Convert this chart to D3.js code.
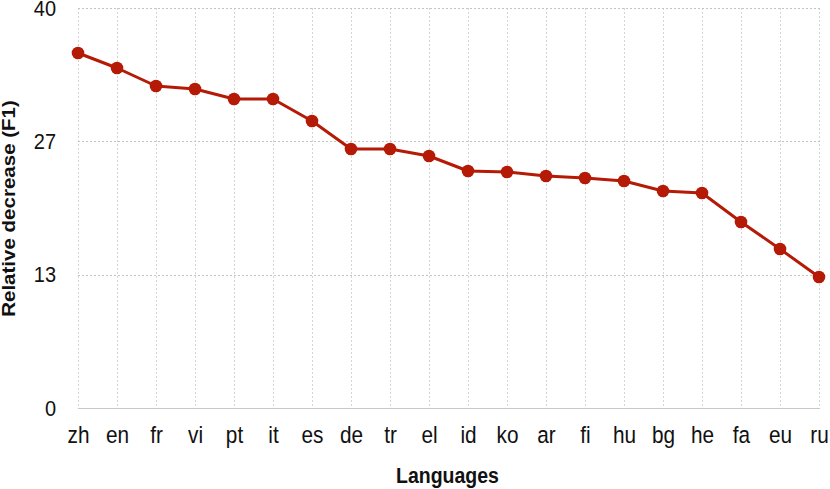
<!DOCTYPE html>
<html><head><meta charset="utf-8">
<script src="https://cdn.jsdelivr.net/npm/d3@7"></script>
<style>
html,body{margin:0;padding:0;background:#fff;}
svg{display:block;}
text{font-family:"Liberation Sans",Arial,Helvetica,sans-serif;}
</style></head>
<body>
<svg id="chart" width="830" height="489"></svg>
<script>
const languages = ["zh","en","fr","vi","pt","it","es","de","tr","el","id","ko","ar","fi","hu","bg","he","fa","eu","ru"];
const relativeDecrease = [35.5,34.0,32.2,31.9,30.9,30.9,28.7,25.9,25.9,25.2,23.7,23.6,23.2,23.0,22.7,21.7,21.5,18.6,15.9,13.1];
const yTickValues = [0, 40/3, 80/3, 40];
const yTickLabels = ["0","13","27","40"];

(function () {
const svg = d3.select("#chart");
const pLeft = 78, pRight = 819, pTop = 8, pBottom = 408;
const x = d3.scalePoint().domain(languages).range([pLeft, pRight]);
const y = d3.scaleLinear().domain([0, 40]).range([pBottom, pTop]);
const sy = 1.12;

// vertical grid
svg.append("g").selectAll("line").data(languages).join("line")
  .attr("x1", d => Math.round(x(d)) + 0.5).attr("x2", d => Math.round(x(d)) + 0.5)
  .attr("y1", pTop).attr("y2", pBottom)
  .attr("stroke", "#d4d4d4").attr("stroke-width", 1).attr("stroke-dasharray", "2,2");
// horizontal grid
svg.append("g").selectAll("line").data(yTickValues.slice(1)).join("line")
  .attr("x1", pLeft).attr("x2", pRight + 1)
  .attr("y1", d => Math.round(y(d)) + 0.5).attr("y2", d => Math.round(y(d)) + 0.5)
  .attr("stroke", "#c4c4c4").attr("stroke-width", 1).attr("stroke-dasharray", "2,2");
// baseline
svg.append("line").attr("x1", pLeft).attr("x2", pRight + 1)
  .attr("y1", pBottom + 0.5).attr("y2", pBottom + 0.5)
  .attr("stroke", "#c8c8c8").attr("stroke-width", 1.2);

// y axis
const yAxis = d3.axisLeft(y).tickValues(yTickValues).tickFormat((d, i) => yTickLabels[i]).tickSize(0).tickPadding(22);
const gy = svg.append("g").attr("transform", `translate(${pLeft},0)`).call(yAxis);
gy.select(".domain").remove();
gy.selectAll("text").attr("font-size", 20).attr("fill", "#111")
  .attr("font-family", '"Liberation Sans",Arial,sans-serif')
  .attr("transform", `scale(1,${sy})`);

// x axis
const xAxis = d3.axisBottom(x).tickSize(0).tickPadding(0);
const gx = svg.append("g").attr("transform", `translate(0,${pBottom})`).call(xAxis);
gx.select(".domain").remove();
gx.selectAll("text").attr("font-size", 20.8).attr("fill", "#111")
  .attr("font-family", '"Liberation Sans",Arial,sans-serif')
  .attr("dy", null).attr("y", 0)
  .attr("transform", `translate(0,35) scale(1,${sy})`);

// line
const line = d3.line().x((d, i) => x(languages[i])).y(d => y(d));
svg.append("path").datum(relativeDecrease).attr("d", line)
  .attr("fill", "none").attr("stroke", "#b51a06").attr("stroke-width", 3).attr("stroke-linejoin", "round");
svg.append("g").selectAll("circle").data(relativeDecrease).join("circle")
  .attr("cx", (d, i) => x(languages[i])).attr("cy", d => y(d)).attr("r", 6.3)
  .attr("fill", "#b51a06");

// titles
svg.append("text").attr("transform", `translate(${(pLeft + pRight) / 2 - 1},483) scale(1,${sy})`)
  .attr("text-anchor", "middle").attr("font-size", 19.5).attr("font-weight", "bold").attr("fill", "#111")
  .text("Languages");
svg.append("text").attr("transform", `translate(14.5,208.5) rotate(-90) scale(${sy + 0.02},1)`)
  .attr("text-anchor", "middle").attr("font-size", 18).attr("font-weight", "bold").attr("fill", "#111")
  .text("Relative decrease (F1)");
})();
</script>
</body></html>
